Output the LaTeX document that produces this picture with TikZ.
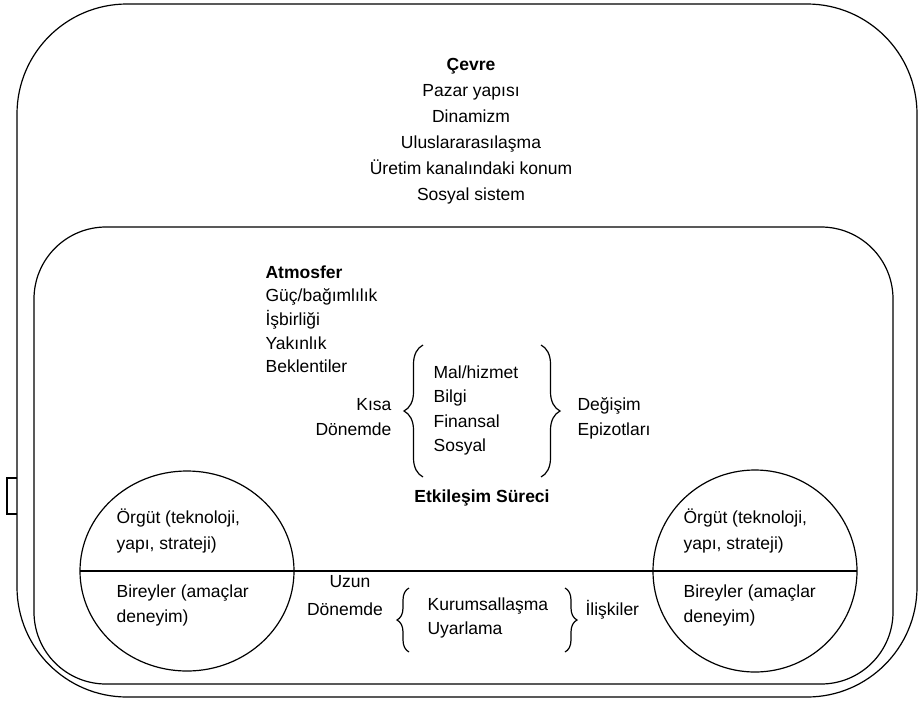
\documentclass[tikz,border=0pt]{standalone}
\usepackage{fontspec}
\setmainfont{Liberation Sans}
\usetikzlibrary{decorations.pathreplacing}
\begin{document}
\begin{tikzpicture}[x=1pt,y=-1pt,line width=1.2pt,
  txt/.style={inner sep=0pt, font=\fontsize{17.5}{24}\selectfont},
  lt/.style={txt, anchor=base west},
  ct/.style={txt, anchor=base},
  rt/.style={txt, anchor=base east},
  br/.style={decorate, decoration={brace, amplitude=19pt}, line width=1.2pt},
  sbr/.style={decorate, decoration={brace, amplitude=12pt}, line width=1.2pt}]
\useasboundingbox (0,0) rectangle (918,702);
% frames
\draw[rounded corners=110pt] (17,4) rectangle (917,697);
\draw[rounded corners=72pt] (34,227) rectangle (893,684);
\draw (17,478) -- (7,478) -- (7,514) -- (17,514);
% circles
\draw (187,571) ellipse [x radius=107pt, y radius=100pt];
\draw (755,571) ellipse [x radius=102pt, y radius=101pt];
\coordinate (hl) at (80,571);
\coordinate (hr) at (857,571);
\draw (hl) -- (hr);
% Cevre
\node[ct] (c0) at (471,70) {\textbf{Çevre}};
\node[ct] (c1) at (471,96) {Pazar yapısı};
\node[ct] (c2) at (471,122) {Dinamizm};
\node[ct] (c3) at (471,148) {Uluslararasılaşma};
\node[ct] (c4) at (471,174) {Üretim kanalındaki konum};
\node[ct] (c5) at (471,200) {Sosyal sistem};
% Atmosfer
\node[lt] (a0) at (265,278) {\textbf{Atmosfer}};
\node[lt] (a1) at (265,301) {Güç/bağımlılık};
\node[lt] (a2) at (265,325) {İşbirliği};
\node[lt] (a3) at (265,349) {Yakınlık};
\node[lt] (a4) at (265,372) {Beklentiler};
% short term
\node[rt] (k1) at (392,410) {Kısa};
\node[rt] (k2) at (392,435) {Dönemde};
\coordinate (lb1) at (423,345);
\coordinate (lb2) at (423,477);
\draw[br] (lb2) -- (lb1);
\node[lt] (m1) at (433,378) {Mal/hizmet};
\node[lt] (m2) at (433,402) {Bilgi};
\node[lt] (m3) at (433,427) {Finansal};
\node[lt] (m4) at (433,451) {Sosyal};
\coordinate (rb1) at (541,345);
\coordinate (rb2) at (541,477);
\draw[br] (rb1) -- (rb2);
\node[lt] (d1) at (577,410) {Değişim};
\node[lt] (d2) at (577,435) {Epizotları};
\node[ct] (e) at (482,502) {\textbf{Etkileşim Süreci}};
% circles text
\node[lt] (o1) at (116,523) {Örgüt (teknoloji,};
\node[lt] (o2) at (116,549) {yapı, strateji)};
\node[lt] (o3) at (116,597) {Bireyler (amaçlar};
\node[lt] (o4) at (116,622) {deneyim)};
\node[lt] (p1) at (683,523) {Örgüt (teknoloji,};
\node[lt] (p2) at (683,549) {yapı, strateji)};
\node[lt] (p3) at (683,597) {Bireyler (amaçlar};
\node[lt] (p4) at (683,622) {deneyim)};
% long term
\node[ct] (u1) at (350,587) {Uzun};
\node[ct] (u2) at (345,615) {Dönemde};
\coordinate (lc1) at (409,588);
\coordinate (lc2) at (409,652);
\draw[sbr] (lc2) -- (lc1);
\node[lt] (ku1) at (427,610) {Kurumsallaşma};
\node[lt] (ku2) at (427,634) {Uyarlama};
\coordinate (rc1) at (565,588);
\coordinate (rc2) at (565,652);
\draw[sbr] (rc1) -- (rc2);
\node[lt] (il) at (585,615) {İlişkiler};
\end{tikzpicture}
\end{document}
